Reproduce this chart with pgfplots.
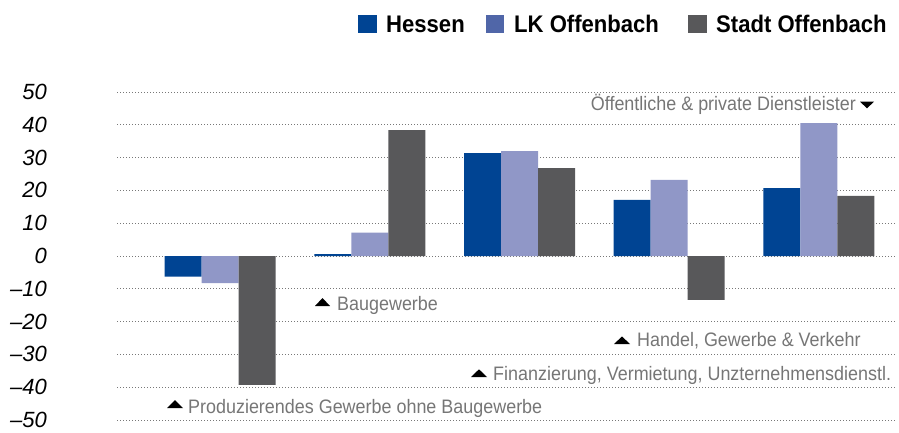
\documentclass[border=0pt]{standalone}
\usepackage{pgfplots}
\pgfplotsset{compat=1.18}
\usepackage{fontspec}
\setmainfont{Liberation Sans}
\newfontfamily\condfont[FakeStretch=0.92]{Liberation Sans}
\definecolor{hessen}{RGB}{0,68,147}
\definecolor{lkbar}{RGB}{144,151,199}
\definecolor{lkleg}{RGB}{80,102,168}
\definecolor{stadt}{RGB}{88,88,90}
\definecolor{anno}{RGB}{118,118,118}
\definecolor{gridc}{RGB}{120,120,120}
\begin{document}
\begin{tikzpicture}[x=1pt,y=1pt]
\useasboundingbox (0,0) rectangle (899,432);
\begin{axis}[at={(117pt,12pt)}, anchor=south west, scale only axis,
  width=780pt, height=328pt,
  xmin=-0.689, xmax=4.522, ymin=-50, ymax=50,
  ybar=0pt, bar width=37pt,
  axis line style={draw=none}, major tick style={draw=none},
  xtick=\empty, ytick={-50,-40,...,50},
  yticklabels={\textendash50,\textendash40,\textendash30,\textendash20,\textendash10,0,10,20,30,40,50},
  yticklabel style={font=\fontsize{22}{22}\selectfont\itshape, anchor=east, inner sep=0pt, xshift=-70pt},
  ymajorgrids, grid style={gridc, line width=0.9pt, dash pattern=on 0.9pt off 2.1pt},
  clip=false]
\addplot[fill=hessen, draw=none] coordinates {(0,-6.3) (1,0.6) (2,31.4) (3,17.1) (4,20.7)};
\addplot[fill=lkbar, draw=none] coordinates {(0,-8.3) (1,7.1) (2,32.0) (3,23.2) (4,40.5)};
\addplot[fill=stadt, draw=none] coordinates {(0,-39.3) (1,38.4) (2,26.8) (3,-13.4) (4,18.3)};
\end{axis}
% legend
\tikzset{leg/.style={anchor=base west, inner sep=0pt, font=\condfont\fontsize{24}{24}\selectfont\bfseries}}
\fill[hessen] (358,399) rectangle (377,417);
\node[leg] at (386,399) {Hessen};
\fill[lkleg] (486,399) rectangle (504,417);
\node[leg] at (514,399) {LK Offenbach};
\fill[stadt] (688,399) rectangle (707,417);
\node[leg] at (716,399) {Stadt Offenbach};
% annotations
\tikzset{anno/.style={anchor=base west, inner sep=0pt, text=anno, font=\condfont\fontsize{19.5}{19.5}\selectfont}}
\fill[black] (315,126)--(330,126)--(322.5,134)--cycle;
\node[anno] at (337,122) {Baugewerbe};
\fill[black] (614,88)--(630,88)--(622,95.5)--cycle;
\node[anno] at (637,86) {Handel, Gewerbe \& Verkehr};
\fill[black] (471,55)--(487,55)--(479,62.7)--cycle;
\node[anno] at (493,52) {Finanzierung, Vermietung, Unzternehmensdienstl.};
\fill[black] (167,24)--(183,24)--(175,32)--cycle;
\node[anno] at (188,19) {Produzierendes Gewerbe ohne Baugewerbe};
\fill[black] (860,330.3)--(874,330.3)--(867,323.7)--cycle;
\node[anno, anchor=base east] at (856,321) {Öffentliche \& private Dienstleister};
\end{tikzpicture}
\end{document}
